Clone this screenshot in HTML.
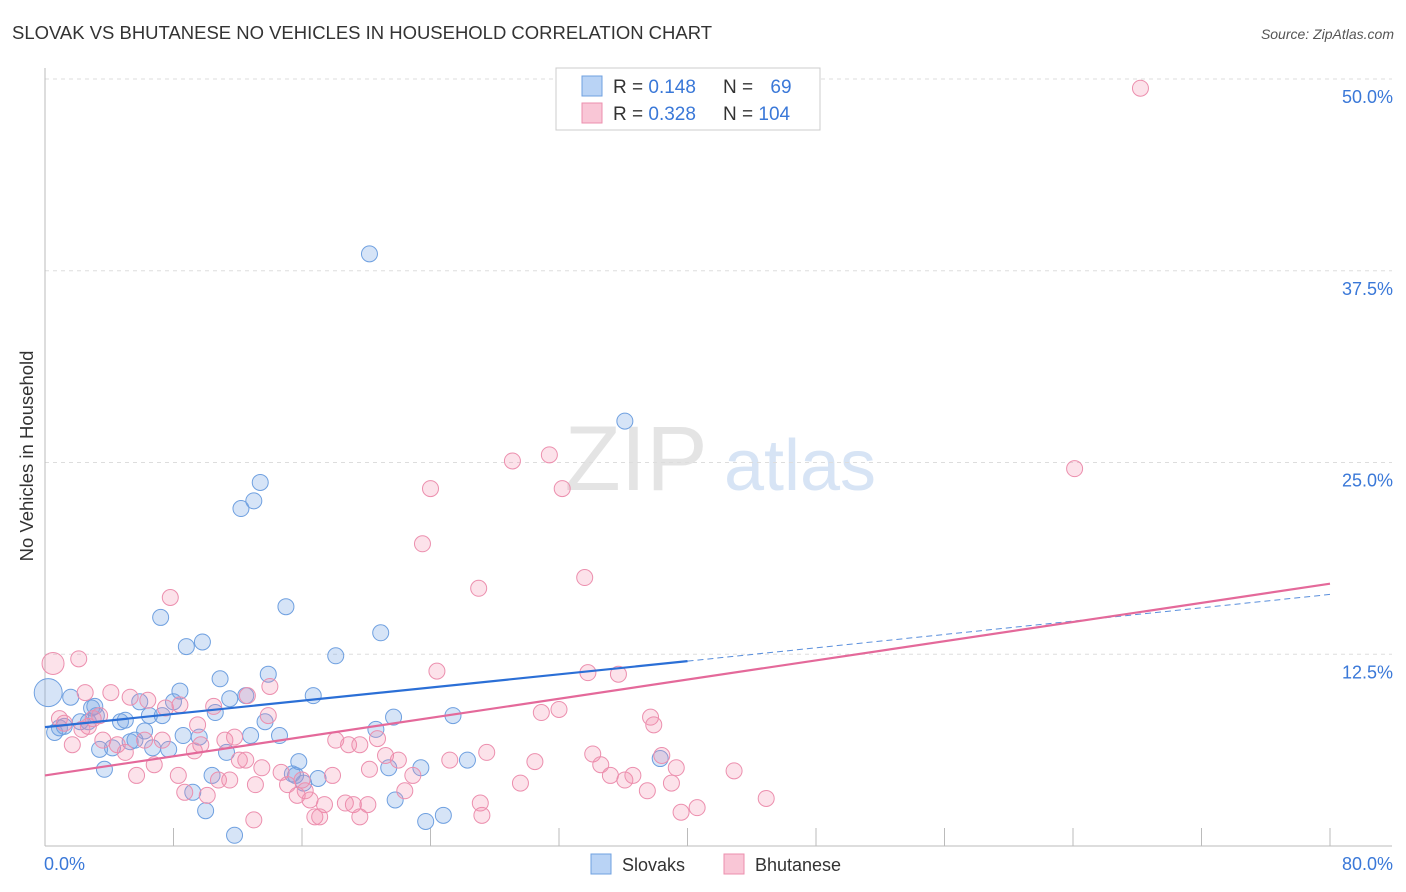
<!DOCTYPE html>
<html><head><meta charset="utf-8">
<style>
body{margin:0;background:#fff;font-family:"Liberation Sans",sans-serif;}
#wrap{position:relative;width:1406px;height:892px;overflow:hidden;}
svg text{font-family:"Liberation Sans",sans-serif;}
</style></head>
<body>
<div id="wrap">
<svg id="chart" width="1406" height="892">
<text x="12" y="39" font-size="18" fill="#333" textLength="700" lengthAdjust="spacingAndGlyphs">SLOVAK VS BHUTANESE NO VEHICLES IN HOUSEHOLD CORRELATION CHART</text>
<text x="1394" y="39" font-size="14" fill="#555" font-style="italic" text-anchor="end">Source: ZipAtlas.com</text>
<text x="636" y="490" font-size="92" fill="#e4e4e4" font-family="Liberation Serif" text-anchor="middle">ZIP</text>
<text x="800" y="490" font-size="72" fill="#d7e4f5" text-anchor="middle">atlas</text>
<text x="33" y="456" font-size="18.5" fill="#333" text-anchor="middle" transform="rotate(-90 33 456)">No Vehicles in Household</text>
<g id="grid"></g>
<g id="axes"></g>
<g id="pts"></g>
<g id="lines"></g>
<g>
<rect x="556" y="68" width="264" height="62" fill="#fff" stroke="#ccc"/>
<rect x="582" y="76" width="20" height="20" fill="#b9d3f5" stroke="#6fa0e0"/>
<rect x="582" y="103" width="20" height="20" fill="#f9c6d6" stroke="#ec8fae"/>
<text x="613" y="93" font-size="19" fill="#333">R = <tspan fill="#3a78d8">0.148</tspan></text>
<text x="723" y="93" font-size="19" fill="#333">N = <tspan fill="#3a78d8" dx="12">69</tspan></text>
<text x="613" y="120" font-size="19" fill="#333">R = <tspan fill="#3a78d8">0.328</tspan></text>
<text x="723" y="120" font-size="19" fill="#333">N = <tspan fill="#3a78d8">104</tspan></text>
</g>
<g>
<rect x="591" y="854" width="20" height="20" fill="#b9d3f5" stroke="#6fa0e0"/>
<text x="622" y="871" font-size="18" fill="#333">Slovaks</text>
<rect x="724" y="854" width="20" height="20" fill="#f9c6d6" stroke="#ec8fae"/>
<text x="755" y="871" font-size="18" fill="#333">Bhutanese</text>
</g>
</svg>
</div>
<script>
const xTickLabels=["0.0%","80.0%"];
const yTicks=[12.5,25,37.5,50];
const yTickLabels=["12.5%","25.0%","37.5%","50.0%"];
const slovakX=[0.2,0.6,0.9,1.6,2.2,2.7,2.9,3.2,3.4,3.7,4.2,4.7,5.0,5.3,5.6,5.9,6.2,6.5,6.7,7.2,7.3,7.7,8.0,8.4,8.6,8.8,9.2,9.6,9.8,10.0,10.4,10.6,10.9,11.3,11.5,11.8,12.2,12.5,12.8,13.0,13.4,13.7,13.9,14.6,15.0,15.4,15.6,15.8,16.1,16.7,17.0,18.1,20.2,20.6,20.9,21.4,21.7,21.8,23.4,23.7,24.8,25.4,26.3,36.1,38.3,1.2,3.1];
const slovakY=[10.0,7.4,7.7,9.7,8.1,8.1,9.0,8.5,6.3,5.0,6.4,8.1,8.2,6.8,6.9,9.4,7.5,8.5,6.4,14.9,8.5,6.3,9.4,10.1,7.2,13.0,3.5,7.1,13.3,2.3,4.6,8.7,10.9,6.1,9.6,0.7,22.0,9.8,7.2,22.5,23.7,8.1,11.2,7.2,15.6,4.7,4.6,5.5,4.1,9.8,4.4,12.4,38.6,7.6,13.9,5.1,8.4,3.0,5.1,1.6,2.0,8.5,5.6,27.7,5.7,7.8,9.1];
const bhutX=[68.2,64.1,29.1,31.4,32.2,24.0,23.5,27.0,33.6,7.8,2.1,0.5,24.4,33.8,35.7,37.7,37.9,32.0,30.9,2.5,4.1,5.3,6.4,7.5,10.5,12.6,14.0,13.9,0.9,1.2,2.7,3.4,1.7,4.5,5.0,6.2,7.3,6.8,5.7,8.3,8.7,9.3,9.5,10.1,10.8,11.2,11.5,12.1,12.5,13.1,13.5,13.0,14.7,15.1,15.7,16.2,16.5,16.8,17.4,17.9,18.1,18.7,18.9,19.2,19.6,20.1,20.2,20.7,21.2,22.0,22.4,22.9,27.5,27.1,27.2,29.6,30.5,34.1,34.6,35.2,36.1,36.6,37.5,38.4,39.0,39.3,39.6,40.6,42.9,44.9,25.2,17.1,19.6,8.4,9.7,11.8,3.0,2.3,3.6,16.0];
const bhutY=[49.4,24.6,25.1,25.5,23.3,23.3,19.7,16.8,17.5,16.2,12.2,11.9,11.4,11.3,11.2,8.4,7.9,8.9,8.7,10.0,10.0,9.7,9.5,9.0,9.1,9.8,10.4,8.5,8.3,8.0,7.8,8.5,6.6,6.6,6.1,6.9,6.9,5.3,4.6,4.6,3.5,6.2,7.9,3.3,4.3,6.9,4.3,5.6,5.6,4.0,5.1,1.7,4.8,4.0,3.3,3.6,3.0,1.9,2.7,4.6,6.9,2.8,6.6,2.7,1.9,2.7,5.0,7.0,5.9,5.6,3.6,4.6,6.1,2.8,2.0,4.1,5.5,6.0,5.3,4.6,4.3,4.6,3.6,5.9,4.1,5.1,2.2,2.5,4.9,3.1,5.6,1.9,6.6,9.2,6.6,7.1,8.3,7.6,6.9,4.3];
const slovakTrendX=[0,40,80];
const slovakTrendY=[7.75,12.05,16.4];
const bhutTrendX=[0,80];
const bhutTrendY=[4.6,17.1];

const X0=45,X1=1330,Y0=846,Y50=79;
const sx=v=>X0+(X1-X0)*v/80;
const sy=v=>Y0-(Y0-Y50)*v/50;
const NS="http://www.w3.org/2000/svg";
function mk(tag,attrs,parent){const e=document.createElementNS(NS,tag);for(const k in attrs)e.setAttribute(k,attrs[k]);parent.appendChild(e);return e;}
const grid=document.getElementById('grid'),axes=document.getElementById('axes'),pts=document.getElementById('pts'),lines=document.getElementById('lines');
yTicks.forEach((t,i)=>{
  const g=mk('line',{x1:X0,x2:1392,y1:sy(t),y2:sy(t),stroke:'#ddd','stroke-dasharray':'4,4'},grid);
  
  
  const tx=mk('text',{x:1393,y:sy(t)+24,'font-size':18,fill:'#3a78d8','text-anchor':'end'},grid);
  tx.textContent=yTickLabels[i];
  
  
});
const la=mk('line',{x1:X0,x2:X0,y1:68,y2:Y0,stroke:'#bbb'},axes);


const ba=mk('line',{x1:X0,x2:1392,y1:Y0,y2:Y0,stroke:'#bbb'},axes);


for(let i=0;i<=10;i++){
  const t=mk('line',{x1:sx(i*8),x2:sx(i*8),y1:828,y2:Y0,stroke:'#bbb'},axes);
  
  
}
[[0,'start',44],[80,'end',1393]].forEach((d,i)=>{
  const t=mk('text',{x:d[2],y:870,'font-size':18,fill:'#3a78d8','text-anchor':d[1]},axes);
  t.textContent=xTickLabels[i];
  
  
});
slovakX.forEach((x,i)=>{
  const c=mk('circle',{cx:sx(x),cy:sy(slovakY[i]),r:(i==0?14:8),fill:'rgba(120,165,230,0.3)',stroke:'#6fa0e0','stroke-width':1},pts);
  
  
});
bhutX.forEach((x,i)=>{
  const c=mk('circle',{cx:sx(x),cy:sy(bhutY[i]),r:(i==11?11:8),fill:'rgba(242,140,170,0.25)',stroke:'#ec8fae','stroke-width':1},pts);
  
  
});
const ls=mk('line',{x1:sx(slovakTrendX[0]),y1:sy(slovakTrendY[0]),x2:sx(slovakTrendX[1]),y2:sy(slovakTrendY[1]),stroke:'#2b6fd6','stroke-width':2.2},lines);


const ld=mk('line',{x1:sx(slovakTrendX[1]),y1:sy(slovakTrendY[1]),x2:sx(slovakTrendX[2]),y2:sy(slovakTrendY[2]),stroke:'#5a8fdc','stroke-width':1,'stroke-dasharray':'6,4'},lines);


const lb=mk('line',{x1:sx(bhutTrendX[0]),y1:sy(bhutTrendY[0]),x2:sx(bhutTrendX[1]),y2:sy(bhutTrendY[1]),stroke:'#e4699a','stroke-width':2.2},lines);


</script>
</body></html>
